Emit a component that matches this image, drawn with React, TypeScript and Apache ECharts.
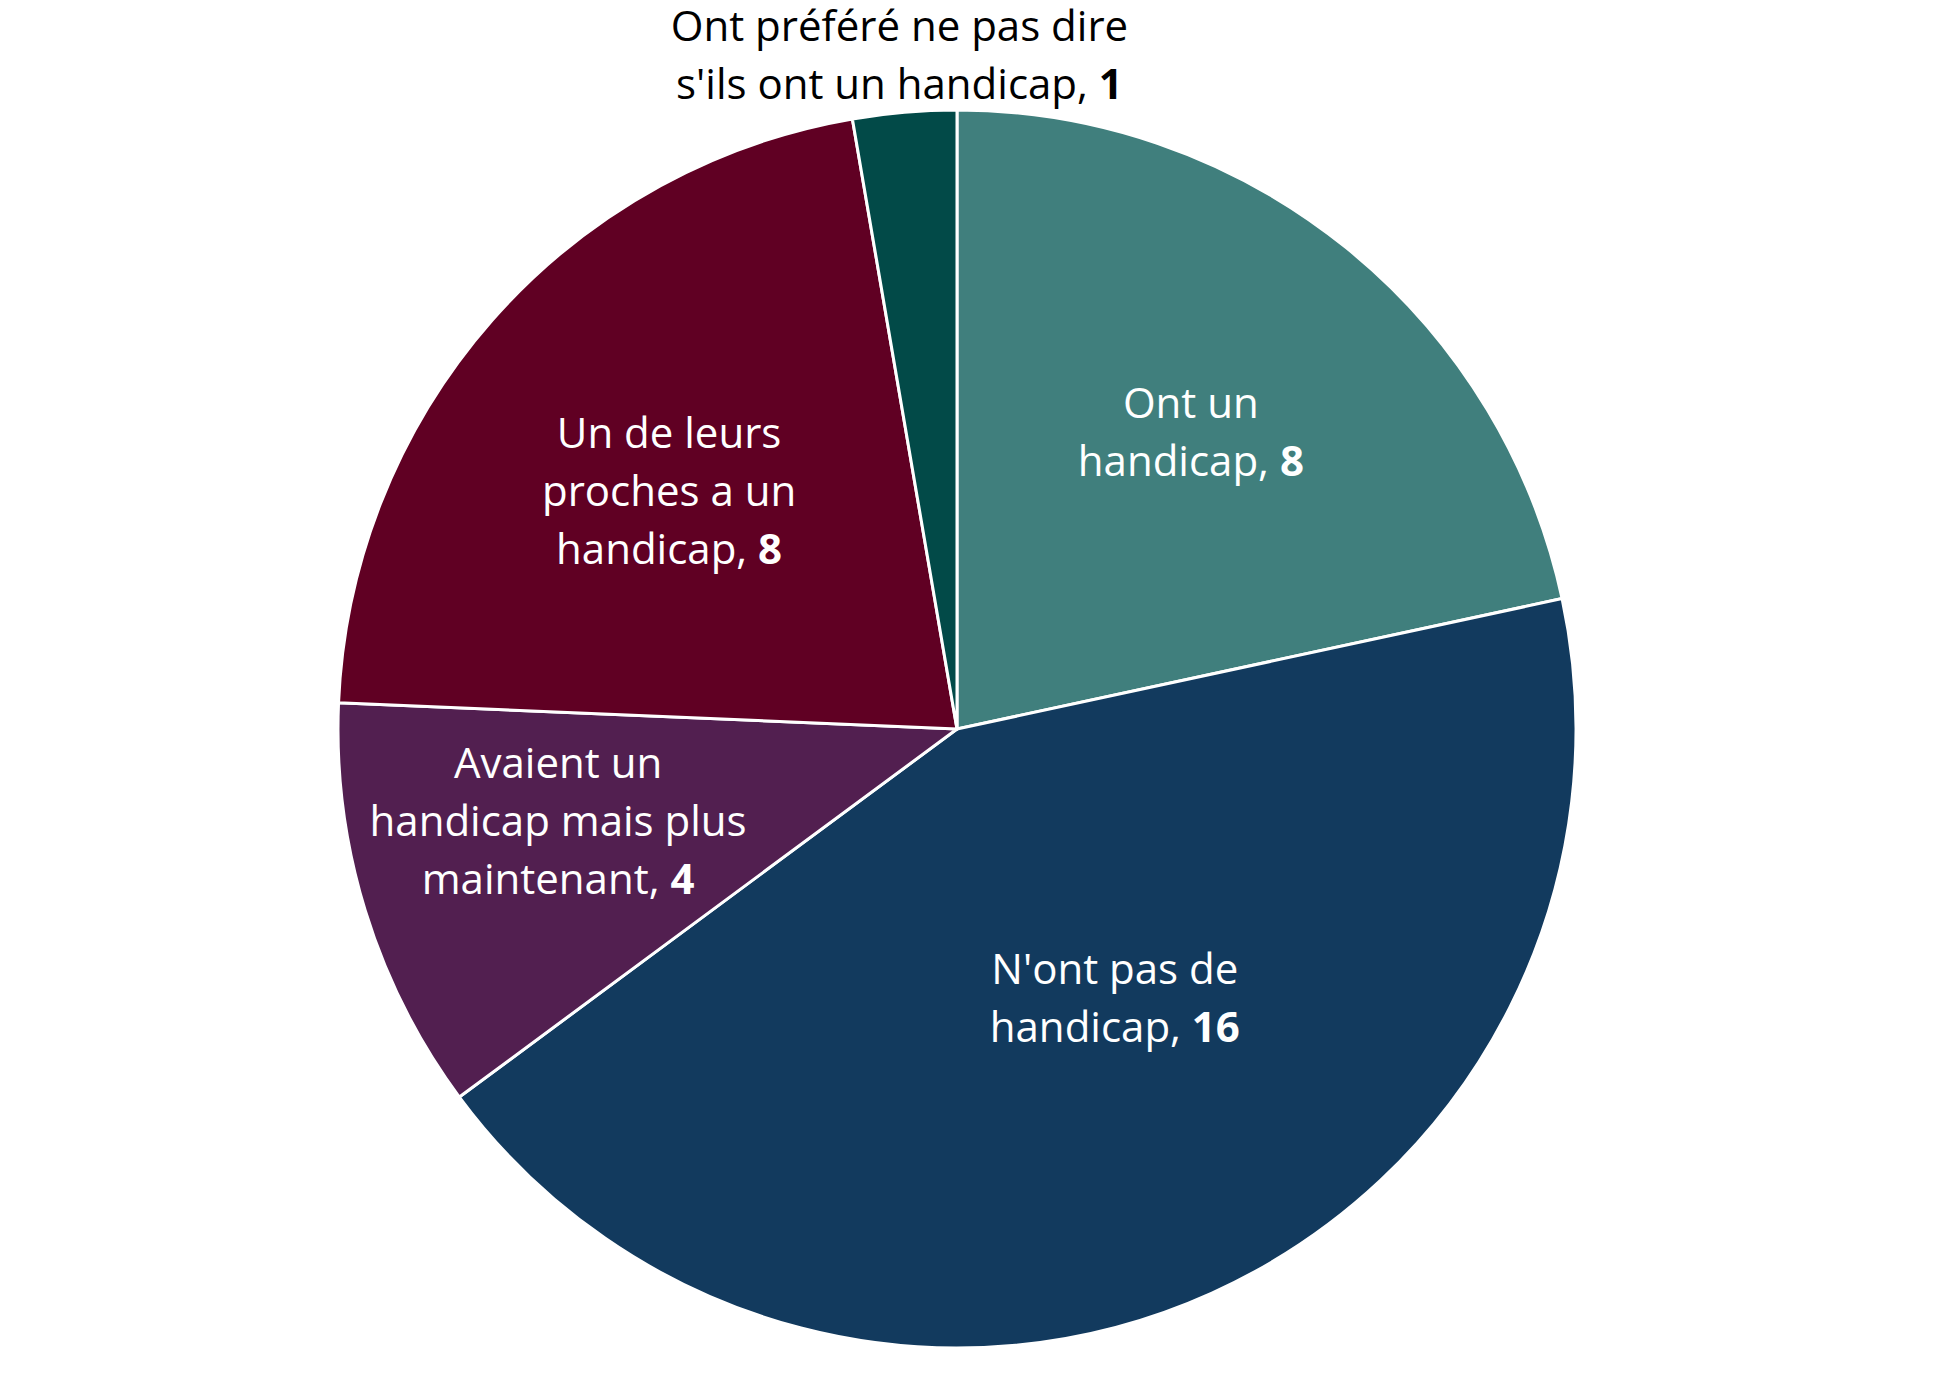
import { useRef, useEffect } from 'react'
import * as echarts from 'echarts'

// categories (line breaks as drawn in the picture) and values, clockwise from 12 o'clock
const categories = [
  'Ont un\nhandicap',
  "N'ont pas de\nhandicap",
  'Avaient un\nhandicap mais plus\nmaintenant',
  'Un de leurs\nproches a un\nhandicap',
  "Ont préféré ne pas dire\ns'ils ont un handicap",
]
const values = [8, 16, 4, 8, 1]
const colors = ['#407f7d', '#123a5e', '#521f50', '#600023', '#024a48']
// label placement: distance from the centre (share of radius) and turn from the slice middle (deg)
const labelDistance = [0.612, 0.502, 0.661, 0.605, 1.096]
const labelTurn = [-0.8, -6.2, 4.2, -1.6, 0]

const CX = 957
const CY = 729
const R = 619
const FONT = '"Open Sans", sans-serif'
const SIZE = 42
const LINE = 58

function App() {
  const chartRef = useRef<HTMLDivElement>(null)

  useEffect(() => {
    document.body.style.margin = '0'
    if (!chartRef.current) return
    const chart = echarts.init(chartRef.current, null, { renderer: 'svg' })

    const total = values.reduce((a, b) => a + b, 0)
    const midAngles: number[] = []
    let acc = 0
    values.forEach((v, i) => {
      midAngles.push(((acc + v / 2) / total) * Math.PI * 2 + (labelTurn[i] * Math.PI) / 180)
      acc += v
    })

    chart.setOption({
      animation: false,
      backgroundColor: '#ffffff',
      series: [
        {
          type: 'pie',
          center: [CX, CY],
          radius: R,
          startAngle: 90,
          clockwise: true,
          avoidLabelOverlap: false,
          itemStyle: { borderColor: '#ffffff', borderWidth: 3 },
          label: {
            show: true,
            position: 'inside',
            fontFamily: FONT,
            fontSize: SIZE,
            lineHeight: LINE,
            align: 'center',
            formatter: (p: any) => `${p.name}, {b|${p.value}}`,
          },
          labelLine: { show: false },
          labelLayout: (p: any) => {
            const a = midAngles[p.dataIndex]
            const d = labelDistance[p.dataIndex] * R
            return { x: CX + d * Math.sin(a), y: CY - d * Math.cos(a) }
          },
          data: categories.map((name, i) => {
            const color = i === 4 ? '#000000' : '#ffffff'
            return {
              name,
              value: values[i],
              itemStyle: { color: colors[i] },
              label: {
                color,
                rich: {
                  b: { color, fontFamily: FONT, fontSize: SIZE, lineHeight: LINE, fontWeight: 'bold' },
                },
              },
            }
          }),
        },
      ],
    })

    return () => {
      chart.dispose()
    }
  }, [])

  return <div ref={chartRef} style={{ width: 1950, height: 1388 }} />
}

export default App
